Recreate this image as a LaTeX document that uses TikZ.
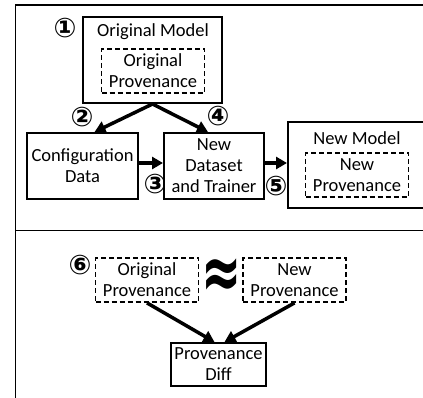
\documentclass[tikz,border=0pt]{standalone}
\usepackage{fontspec}
\setmainfont{Carlito}
\newfontfamily\symfont{DejaVu Sans}
\usetikzlibrary{arrows.meta,positioning}
\tikzset{
  box/.style={draw,line width=2pt,align=center,inner sep=0pt},
  provbox/.style={draw,dash pattern=on 5pt off 3pt,line width=1.8pt,align=center,
    inner sep=0pt,minimum width=103pt,minimum height=44pt},
  flowarrow/.style={-{Triangle[length=11pt,width=12pt]},line width=3.5pt},
  stepnum/.style={font=\symfont\bfseries\fontsize{27}{27}\selectfont,inner sep=0pt},
  frameline/.style={line width=1.2pt}
}

\begin{document}
\begin{tikzpicture}[x=1pt,y=-1pt,font=\fontsize{18.5}{21}\selectfont]
  \useasboundingbox (0,0) rectangle (423,398);
  \clip (0,0) rectangle (423,398);
  % panel frame
  \draw[frameline] (423,5) -- (15.5,5) -- (15.5,398);
  \draw[frameline] (15.5,230.5) -- (423,230.5);

  % upper panel: retraining
  \node[box,minimum width=139pt,minimum height=86pt] (origmodel) at (152.5,60) {};
  \node (origtitle) at (153,32) {Original Model};
  \node[provbox] (origprov) at (153,71) {Original\\Provenance};
  \node[box,minimum width=111pt,minimum height=66pt] (config) at (82.5,166) {Configuration\\Data};
  \node[box,minimum width=100pt,minimum height=66pt] (trainer) at (214,166) {New\\Dataset\\and Trainer};
  \node[box,minimum width=150pt,minimum height=86pt,anchor=west] (newmodel) at (287,165) {};
  \node (newtitle) at (357,138) {New Model};
  \node[provbox] (newprov) at (357,175) {New\\Provenance};

  \draw[flowarrow] (origmodel.south) -- ([xshift=12pt]config.north);
  \draw[flowarrow] (origmodel.south) -- ([xshift=-6pt]trainer.north);
  \draw[flowarrow] ([yshift=3pt]config.east) -- ([yshift=3pt]trainer.west);
  \draw[flowarrow] ([yshift=3pt]trainer.east) -- ([yshift=3pt]trainer.east -| newmodel.west);

  \node[stepnum] (s1) at (65,28) {①};
  \node[stepnum] (s2) at (82,117) {②};
  \node[stepnum] (s3) at (155,184) {③};
  \node[stepnum] (s4) at (218,116) {④};
  \node[stepnum] (s5) at (276,186) {⑤};

  % lower panel: comparison
  \node[stepnum] (s6) at (80,265) {⑥};
  \node[provbox] (oldprov) at (147,280) {Original\\Provenance};
  \node (approx) at (222,279) {\symfont\bfseries\fontsize{48}{48}\selectfont\scalebox{1}[1.6]{≈}};
  \node[provbox] (newprov2) at (294.5,280) {New\\Provenance};
  \node[box,minimum width=95pt,minimum height=43pt] (diff) at (218.5,364.5) {Provenance\\Diff};

  \draw[flowarrow] (oldprov.south) -- ([xshift=-4pt]diff.north);
  \draw[flowarrow] (newprov2.south) -- ([xshift=6pt]diff.north);
\end{tikzpicture}
\end{document}
